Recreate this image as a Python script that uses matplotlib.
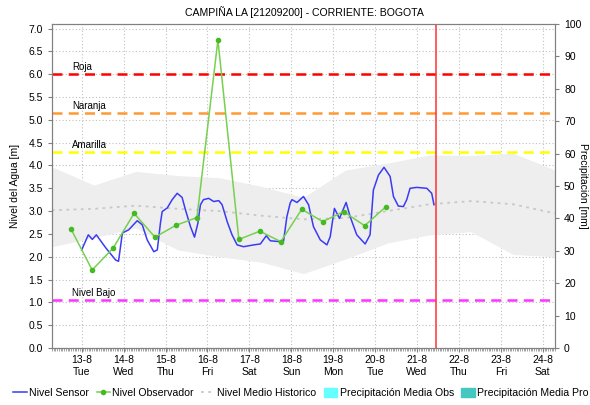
#!/usr/bin/env python

import matplotlib
matplotlib.use("Agg")
import pandas as pd
from matplotlib import pyplot as pl
from matplotlib import dates as mdates
from matplotlib.lines import Line2D
from matplotlib.patches import Patch
from matplotlib.ticker import FuncFormatter, MultipleLocator
from matplotlib.transforms import blended_transform_factory


# sensor readings, hours counted from 13-8 00:00
sensor_hours = [0, 3.8, 6.1, 8.4, 13.7, 19.4, 21.1, 23.3, 26.9, 31.8, 34.7, 37.5,
                41.3, 43.3, 45.1, 46.1, 49.0, 51.8, 54.7, 57.5, 59.4, 62.3, 64.6,
                66.5, 68.0, 69.7, 72.7, 75.6, 78.5, 80.4, 83.3, 86.1, 89.0, 92.7,
                98.5, 102.3, 105.7, 108.0, 113.7, 115.6, 117.5, 119.4, 120.4,
                123.3, 127.0, 129.9, 132.7, 136.6, 140.4, 142.3, 144.7, 147.6,
                151.4, 153.7, 157.5, 162.3, 165.1, 167.0, 169.9, 173.1, 176.6,
                178.5, 181.3, 184.2, 186.1, 188.0, 191.8, 197.6, 200.4, 201.7]
sensor_level = [2.15, 2.48, 2.38, 2.48, 2.20, 1.93, 1.90, 2.52, 2.59, 2.79, 2.70, 2.37,
                2.11, 2.15, 2.74, 2.99, 3.07, 3.25, 3.39, 3.30, 3.03, 2.66, 2.43,
                2.73, 3.14, 3.25, 3.28, 3.21, 3.23, 3.14, 2.77, 2.48, 2.26, 2.22,
                2.26, 2.28, 2.46, 2.35, 2.33, 2.35, 2.88, 3.18, 3.25,
                3.19, 3.32, 3.14, 2.66, 2.37, 2.26, 2.44, 3.06, 2.84,
                3.19, 2.88, 2.48, 2.28, 2.48, 3.46, 3.79, 3.96, 3.76,
                3.32, 3.11, 3.10, 3.25, 3.50, 3.52, 3.50, 3.39, 3.14]

# manual observer readings (06:00 and 18:00)
obs_hours = [-6, 6, 18, 30, 42, 54, 66, 78, 90, 102, 114, 126, 138, 150, 162, 174]
obs_level = [2.60, 1.71, 2.19, 2.95, 2.43, 2.69, 2.86, 6.75, 2.38, 2.56, 2.33, 3.04,
             2.77, 2.99, 2.68, 3.09]

# historic daily band (07:00 each day, 12-8 .. 24-8)
hist_days = pd.date_range("2019-08-12 07:00", "2019-08-24 07:00", freq="D")
hist_upper = [3.97, 3.57, 3.87, 3.78, 3.73, 3.54, 3.30, 3.90, 4.05, 4.23, 4.22, 4.27, 3.90]
hist_lower = [2.22, 2.42, 2.63, 2.15, 2.00, 1.88, 1.63, 1.95, 2.30, 2.48, 2.55, 2.05, 2.00]
hist_mean = [3.02, 3.05, 3.12, 3.05, 3.00, 2.90, 2.82, 2.85, 3.00, 3.15, 3.22, 3.15, 2.95]

# alert thresholds
thresholds = [("Roja", 6.0, "#ff0000"), ("Naranja", 5.15, "#ff9933"),
              ("Amarilla", 4.3, "#ffff00"), ("Nivel Bajo", 1.05, "#ff33ff")]

now = pd.Timestamp("2019-08-21 11:00")
t0 = pd.Timestamp("2019-08-13 00:00")

GRID = "#c0c0c0"
AXIS = "#808080"


def day_label(v, pos):
    d = mdates.num2date(v)
    return "{0}-{1}\n{2}".format(d.day, d.month, d.strftime("%a"))


def main():
    pl.rcParams["font.family"] = ["Liberation Sans", "DejaVu Sans"]
    fig = pl.figure(figsize=(5.9, 4.05), dpi=100)
    ax = fig.add_axes([0.0881, 0.1407, 0.8526, 0.8])

    st = t0 + pd.to_timedelta(sensor_hours, unit="h")
    ot = t0 + pd.to_timedelta(obs_hours, unit="h")

    ax.fill_between(hist_days, hist_lower, hist_upper, color="#eeeeee", lw=0, zorder=1)
    ax.plot(hist_days, hist_mean, color="#c8c8c8", lw=1.3, ls=(0, (1.5, 2.5)), zorder=2)

    tr = blended_transform_factory(ax.transAxes, ax.transData)
    for name, lvl, col in thresholds:
        ax.axhline(lvl, color=col, lw=1.8, ls=(0, (4, 2.5)), zorder=3)
        ax.text(0.04, lvl + 0.05, name, transform=tr, fontsize=7, va="bottom", zorder=4)

    ax.plot(st, sensor_level, color="#3b3bf5", lw=1.1, zorder=5)
    ax.plot(ot, obs_level, color="#77d050", lw=1.1, marker="o", ms=3,
            mfc="#44bb22", mec="#44bb22", zorder=6)

    ax.axvline(now, color="#ff3333", lw=1.1, zorder=7)

    ax.set_xlim(pd.Timestamp("2019-08-12 07:00"), pd.Timestamp("2019-08-24 07:00"))
    ax.set_ylim(0, 7.1)
    ax.yaxis.set_major_locator(MultipleLocator(0.5))
    ax.yaxis.set_major_formatter(FuncFormatter(lambda v, p: "{0:.1f}".format(v)))
    ax.xaxis.set_major_locator(mdates.DayLocator())
    ax.xaxis.set_minor_locator(mdates.HourLocator())
    ax.xaxis.set_major_formatter(FuncFormatter(day_label))
    ax.grid(True, which="major", color=GRID, lw=0.8, ls=(0, (1, 2)))
    ax.set_axisbelow(True)

    ax.tick_params(axis="both", labelsize=7.5, color=AXIS, length=3, width=0.8)
    ax.tick_params(axis="x", which="minor", length=2, width=0.5, color=AXIS)
    ax.tick_params(axis="x", pad=2)
    for s in ax.spines.values():
        s.set_color(AXIS)
        s.set_linewidth(0.8)
    ax.set_ylabel("Nivel del Agua [m]", fontsize=7.5, labelpad=6)

    ax2 = ax.twinx()
    ax2.set_ylim(0, 100)
    ax2.yaxis.set_major_locator(MultipleLocator(10))
    ax2.tick_params(axis="y", labelsize=7.5, color=AXIS, length=3, width=0.8)
    for s in ax2.spines.values():
        s.set_color(AXIS)
        s.set_linewidth(0.8)
    fig.text(583 / 590, 1 - 186 / 405, "Precipitación [mm]", fontsize=7.5,
             rotation=270, ha="center", va="center")

    fig.text(304 / 590, 1 - 12 / 405, "CAMPIÑA LA [21209200] - CORRIENTE: BOGOTA",
             fontsize=7.6, ha="center", va="center")

    handles = [Line2D([], [], color="#3b3bf5", lw=1.1),
               Line2D([], [], color="#77d050", lw=1.1, marker="o", ms=3,
                      mfc="#44bb22", mec="#44bb22"),
               Line2D([], [], color="#c8c8c8", lw=1.3, ls=(0, (1.5, 2.5))),
               Patch(color="#66ffff"),
               Patch(color="#44c8c0")]
    labels = ["Nivel Sensor", "Nivel Observador", "Nivel Medio Historico",
              "Precipitación Media Obs", "Precipitación Media Pro"]
    fig.legend(handles, labels, loc="lower center", bbox_to_anchor=(0.51, -0.007),
               ncol=5, frameon=False, fontsize=7.6, handlelength=1.3,
               handletextpad=0.2, columnspacing=0.7, handleheight=1.0)

    fig.savefig("out.png", dpi=100)


if __name__ == "__main__":
    main()
